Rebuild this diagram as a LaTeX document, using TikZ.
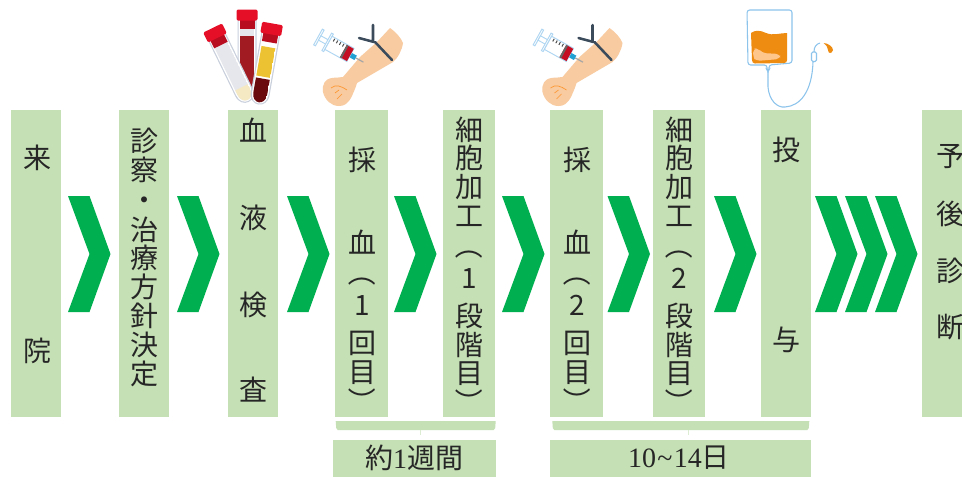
\documentclass[tikz,border=0pt]{standalone}
\usepackage{fontspec}
\setmainfont{Liberation Serif}
\newfontfamily\jpfont{Noto Sans CJK JP}
% Line break with a baseline distance given in picture units
\newcommand\nl[1]{\\[\dimexpr#1pt*3/4-21pt\relax]}
\newcommand\opar{\rotatebox[origin=c]{-90}{（}}
\newcommand\cpar{\rotatebox[origin=c]{-90}{）}}
\definecolor{boxgreen}{HTML}{C5E0B4}
\definecolor{chevgreen}{HTML}{00B050}
\definecolor{inktext}{HTML}{262626}
\definecolor{tubeblue}{HTML}{8CC4EC}
\definecolor{capred}{HTML}{E60F28}
\definecolor{skin}{HTML}{F8CBA0}
\definecolor{band}{HTML}{3B4B5B}
\definecolor{glassedge}{HTML}{C9D0DC}
\definecolor{infusion}{HTML}{EE8C12}
\definecolor{plasma}{HTML}{E6E7EC}
\definecolor{serum}{HTML}{EDC232}
\definecolor{cream}{HTML}{F5E9C4}
\definecolor{wine}{HTML}{A01C22}
\definecolor{darkblood}{HTML}{6A0A0E}
\tikzset{
  stepbox/.style={fill=boxgreen,draw=none,inner sep=0pt,minimum height=307*0.75pt},
  steplabel/.style={anchor=north,inner sep=0pt,text width=30pt,align=center,text=inktext,
    font=\jpfont\fontsize{21}{21}\selectfont,
    execute at begin node={\lineskiplimit=-100pt\relax}},
  spanlabel/.style={inner sep=0pt,text=inktext,font=\jpfont\fontsize{21}{22}\selectfont},
  spanbox/.style={fill=boxgreen,draw=none},
  chev/.style={fill=chevgreen,draw=none},
  armsyringe/.pic={
    % forearm
    \fill[skin] (390,28) .. controls (396,32) and (401,38) .. (403,43)
      .. controls (402,50) and (398,58) .. (393,62)
      -- (357,83) .. controls (355,90) and (353,93) .. (352,96)
      .. controls (348,104) and (344,106) .. (339,106)
      .. controls (331,106) and (325,100) .. (323,92)
      .. controls (322,84) and (325,79) .. (332,78)
      .. controls (337,77) and (340,78) .. (343,77)
      -- (360,57) -- (377,42) -- cycle;
    \draw[orange!70!skin,line width=.5pt] (331,88) .. controls (336,84) and (341,86) .. (347,90)
      (335,93) -- (339,90) (337,99) -- (342,94);
    % tourniquet
    \draw[band,line width=1.9pt,line cap=round]
      (375,42) -- (392,60) (373,25) -- (373,41) (359,38) -- (374,42);
    % syringe
    \begin{scope}[shift={(318,37)},rotate=-29]
      \fill[gray!70] (43,-.6) rectangle (52,.6);
      \fill[cyan!70!teal] (37,-2.5) rectangle (43,2.5);
      \draw[tubeblue!70,fill=white,line width=.7pt] (0,-9) -- (2,-9) -- (2,9) -- (0,9) -- cycle;
      \draw[tubeblue!70,fill=white,line width=.7pt] (2,-2.5) rectangle (11,2.5);
      \draw[tubeblue!70,fill=white,line width=.7pt] (10,-10) -- (12,-10) -- (12,10) -- (10,10) -- cycle;
      \draw[tubeblue!70,fill=white,line width=.7pt] (12,-7.5) rectangle (37,7.5);
      \fill[capred!85!black] (29,-7) rectangle (37,7);
      \fill[black!60] (29,-7) rectangle (31,7);
      \foreach \tx in {15,18.5,22,25.5}{\fill[black!70] (\tx,-6.5) rectangle (\tx+1,-3.5);}
    \end{scope}
  },
  samplecap/.style={fill=capred,rounded corners=1pt},
}
\newcommand\sampletube[3]{%
  % local frame: axis along +y, cap at the top; #3 paints the contents
  \begin{scope}[shift={#1},rotate=#2]
    \fill[glassedge] (-9.5,10) -- (9.5,10) -- (9.5,71)
      .. controls (9.5,86) and (-9.5,86) .. (-9.5,71) -- cycle;
    \fill[white] (-8.3,10) -- (8.3,10) -- (8.3,71)
      .. controls (8.3,84.5) and (-8.3,84.5) .. (-8.3,71) -- cycle;
    \begin{scope}
      \clip (-7,10) -- (7,10) -- (7,71)
        .. controls (7,83) and (-7,83) .. (-7,71) -- cycle;
      #3
    \end{scope}
    \fill[capred!80!black] (-7.5,8) rectangle (7.5,19);
    \fill[samplecap] (-10.5,0) rectangle (10.5,11);
  \end{scope}}
\begin{document}
\begin{tikzpicture}[x=0.75pt,y=-0.75pt]
  \fill[white] (0,0) rectangle (962,476);
  \clip (0,0) rectangle (962,476);

  % process steps
  \node[stepbox,minimum width=50*0.75pt] (visit) at (36,263.5) {};
  \node[stepbox,minimum width=50*0.75pt] (consult) at (144,263.5) {};
  \node[stepbox,minimum width=50*0.75pt] (test) at (253,263.5) {};
  \node[stepbox,minimum width=53*0.75pt] (drawa) at (361.5,263.5) {};
  \node[stepbox,minimum width=52*0.75pt] (cella) at (469,263.5) {};
  \node[stepbox,minimum width=53*0.75pt] (drawb) at (576.5,263.5) {};
  \node[stepbox,minimum width=52*0.75pt] (cellb) at (679,263.5) {};
  \node[stepbox,minimum width=50*0.75pt] (dose) at (786,263.5) {};
  \node[stepbox,minimum width=50*0.75pt] (prog) at (947,263.5) {};

  \node[steplabel] (visitt) at (37,145) {来\nl{193}院};
  \node[steplabel] (consultt) at (144,128) {診\nl{29}察\nl{30}・\nl{30}治\nl{28}療\nl{29}方\nl{29}針\nl{29}決\nl{29}定};
  \node[steplabel] (testt) at (253,118) {血\nl{87}液\nl{87}検\nl{85}査};
  \node[steplabel] (drawat) at (362.5,147) {採\nl{83}血\nl{29}\opar\nl{33}1\nl{38}回\nl{29}目\nl{29}\cpar};
  \node[steplabel] (cellat) at (469,117) {細\nl{28}胞\nl{29}加\nl{29}工\nl{29}\opar\nl{33}1\nl{38}段\nl{29}階\nl{28}目\nl{29}\cpar};
  \node[steplabel] (drawbt) at (577.5,147) {採\nl{83}血\nl{29}\opar\nl{33}2\nl{38}回\nl{29}目\nl{29}\cpar};
  \node[steplabel] (cellbt) at (679,117) {細\nl{28}胞\nl{29}加\nl{29}工\nl{29}\opar\nl{33}2\nl{38}段\nl{29}階\nl{28}目\nl{29}\cpar};
  \node[steplabel] (doset) at (786,137) {投\nl{190}与};
  \node[steplabel] (progt) at (950,144) {予\nl{58}後\nl{57}診\nl{56}断};

  % chevrons between steps
  \foreach \cx in {68,177,287,394,502,607.5,714,815,845,875}{
    \fill[chev] (\cx,196) -- ({\cx+21.5},196) -- ({\cx+42.5},254) -- ({\cx+21.5},312)
      -- (\cx,312) -- ({\cx+21.5},254) -- cycle;
  }

  % duration brackets
  \fill[spanbox] (335.7,421) -- (495.7,421) -- (495.2,428) -- (493.7,430) -- (337.7,430) -- (336.2,428) -- cycle;
  \draw[boxgreen!60,line width=.5pt] (420.7,430) -- (420.7,435);
  \fill[spanbox] (552.3,421) -- (809.3,421) -- (808.8,428) -- (807.3,430) -- (554.3,430) -- (552.8,428) -- cycle;
  \draw[boxgreen!60,line width=.5pt] (688.7,430) -- (688.7,435);

  \node[spanbox,inner sep=0pt,minimum width=163*0.75pt,minimum height=40*0.75pt] (weekbox) at (414.2,459.5) {};
  \node[spanbox,inner sep=0pt,minimum width=261*0.75pt,minimum height=40*0.75pt] (daysbox) at (680.5,459.5) {};
  \node[spanlabel] (weekt) at (414,458) {約{\rmfamily 1}週間};
  \node[spanlabel] (dayst) at (679,458) {{\rmfamily 10\kern1pt\textasciitilde\kern1pt14}日};

  % blood sample tubes
  \sampletube{(247,9.5)}{0}{\fill[plasma] (-7,10) rectangle (7,90);
    \fill[wine] (-7,26) rectangle (7,90);}
  \sampletube{(212.6,28)}{26}{\fill[plasma] (-7,10) rectangle (7,90);
    \fill[cream] (-7,66) rectangle (7,90);}
  \sampletube{(272.6,23.5)}{-10}{\fill[white] (-7,10) rectangle (7,90);
    \fill[serum] (-7,24) rectangle (7,54);
    \fill[darkblood] (-7,56) rectangle (7,90);}

  % blood draw illustrations
  \pic {armsyringe};
  \pic[shift={(219.5,0)}] {armsyringe};

  % infusion bag
  \draw[tubeblue,line width=.8pt,rounded corners=2pt,fill=white]
    (747,10) -- (792,10) -- (792,63) -- (769,65) -- (769,70) -- (768,72) -- (767,70) -- (767,65) -- (748,65) -- cycle;
  \fill[infusion]
    (751,33) .. controls (755,30) and (760,30) .. (766,33) .. controls (773,36) and (780,33) .. (787,33)
    -- (787,60) .. controls (787,62) and (786,63) .. (784,63) -- (755,63.5)
    .. controls (753,63.5) and (752,62) .. (752,60) -- cycle;
  \fill[orange!45!white,rounded corners=3pt] (753,49) -- (758,48) -- (762,53) -- (780,54) -- (780,59) -- (756,61) -- (753,57) -- cycle;
  \draw[tubeblue,line width=.8pt] (768,72) -- (768,87) .. controls (769,100) and (777,108) .. (785,107)
    .. controls (800,106) and (812,92) .. (813,62);
  \draw[tubeblue,line width=.8pt,rounded corners=1pt] (811.5,52) rectangle (816.5,61.5);
  \draw[tubeblue,line width=.8pt] (814,52) .. controls (814,47) and (816,44) .. (820,43);
  \fill[infusion] (823.5,43) .. controls (828,43) and (833,47) .. (833,50)
    .. controls (832,54) and (828,54) .. (828,50) .. controls (828,47) and (826,45) .. (823.5,43) -- cycle;
\end{tikzpicture}
\end{document}
